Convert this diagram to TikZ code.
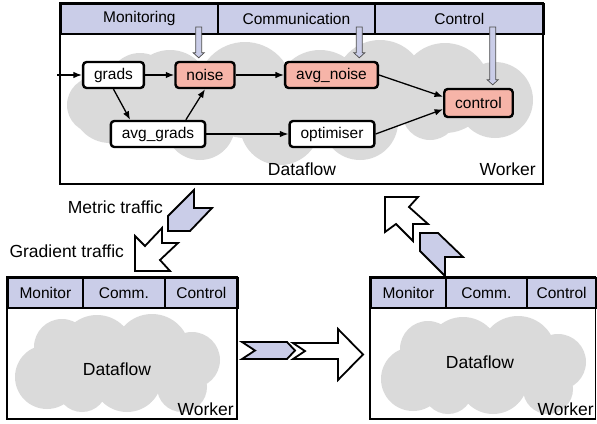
\documentclass[tikz,border=0pt]{standalone}
\usepackage{fontspec}
\setmainfont{Liberation Sans}
\usetikzlibrary{arrows.meta,calc}

\definecolor{hdrblue}{RGB}{202,205,232}
\definecolor{opred}{RGB}{246,180,168}
\definecolor{cloudgray}{RGB}{218,218,218}

\tikzset{
  wframe/.style={draw,line width=1.8pt},
  hdr/.style={draw,line width=1.8pt,fill=hdrblue,minimum height=30pt,inner sep=0pt,
    anchor=north west,font=\fontsize{15.5}{18}\selectfont},
  op/.style={draw,line width=2.4pt,rounded corners=3.5pt,fill=white,minimum height=26pt,
    inner xsep=11pt,inner ysep=0pt,font=\fontsize{15.5}{18}\selectfont},
  hot/.style={op,fill=opred},
  flow/.style={-{Latex[length=8.5pt,width=6.5pt]},line width=1.3pt},
  tag/.style={font=\fontsize{17.5}{20}\selectfont,inner sep=0pt},
  traffic/.style={draw,line width=1.8pt,line join=miter,fill=hdrblue},
  bulk/.style={traffic,fill=white},
  ctl/.style={draw=black!70,line width=0.7pt,fill=hdrblue},
  smallcloud/.pic={
    \fill[cloudgray] (-70,15) circle (32pt) (-55,-15) circle (28pt) (-20,-10) circle (37pt)
      (35,-10) circle (38pt) (75,-2) circle (28pt) (65,25) circle (25pt)
      (10,15) circle (35pt) (-35,25) circle (25pt);
  }
}

% hollow control arrow from a header tap down onto a node
\newcommand{\ctlarrow}[2]{%
  \path[ctl] let \p1=(#1), \p2=(#2.north) in
    (\x1-3pt,\y1) -- (\x1-3pt,\y2+8pt) -- (\x1-5.5pt,\y2+8pt) -- (\x1,\y2+3pt)
    -- (\x1+5.5pt,\y2+8pt) -- (\x1+3pt,\y2+8pt) -- (\x1+3pt,\y1) -- cycle;}

\begin{document}
\begin{tikzpicture}[x=1pt,y=-1pt]
 \useasboundingbox (0,0) rectangle (597,423);

 % main worker
 \begin{scope}
  \fill[cloudgray] (95,105) circle (28pt) (110,105) circle (38pt) (140,85) circle (32pt)
    (170,90) circle (40pt) (245,90) circle (48pt) (320,95) circle (45pt)
    (380,85) circle (45pt) (445,88) circle (45pt) (495,100) circle (38pt)
    (200,125) circle (35pt) (280,125) circle (40pt) (360,122) circle (38pt)
    (430,112) circle (28pt) (130,122) circle (24pt);
  \node[hdr,minimum width=157pt] (mon) at (60,3) {Monitoring};
  \node[hdr,minimum width=157pt] (com) at (217,3) {Communication};
  \node[hdr,minimum width=169pt] (ctr) at (374,3) {Control};
  \draw[wframe] (60,3) rectangle (543,184);

  \node[op] (grads) at (113.5,75) {grads};
  \node[hot] (noise) at (205,75) {noise};
  \node[hot] (avgnoise) at (331.5,75) {avg\_noise};
  \node[hot,minimum height=28pt] (control) at (478.5,103) {control};
  \node[op] (avggrads) at (158,134) {avg\_grads};
  \node[op,minimum width=70pt] (optim) at (332,134) {optimiser};

  \coordinate (in) at (57,75);
  \draw[flow] (in) -- (grads);
  \draw[flow] (grads) -- (noise);
  \draw[flow] (noise) -- (avgnoise);
  \draw[flow] (avgnoise.east) -- (control.170);
  \draw[flow] (grads.south) -- (avggrads.153);
  \draw[flow] (avggrads.27) -- (noise.south);
  \draw[flow] (avggrads) -- (optim);
  \draw[flow] (optim.east) -- (control.190);

  \coordinate (mon tap) at (198.7,27);
  \coordinate (com tap) at (359.3,27);
  \coordinate (ctr tap) at (492.7,27);
  \ctlarrow{mon tap}{noise}
  \ctlarrow{com tap}{avgnoise}
  \ctlarrow{ctr tap}{control}

  \node[tag,anchor=base] (df) at (302,175.7) {Dataflow};
  \node[tag,anchor=base east] (wk) at (536,175.7) {Worker};
 \end{scope}

 % worker on the left
 \begin{scope}
  \pic at (117,362) {smallcloud};
  \node[hdr,minimum width=75pt] (lmon) at (7,277) {Monitor};
  \node[hdr,minimum width=82pt] (lcom) at (82,277) {Comm.};
  \node[hdr,minimum width=73pt] (lctr) at (164,277) {Control};
  \draw[wframe] (7,277) rectangle (237,419);
  \node[tag,anchor=base] (ldf) at (117,375) {Dataflow};
  \node[tag,anchor=base east] (lwk) at (234,415) {Worker};
 \end{scope}

 % worker on the right
 \begin{scope}
  \pic at (483,364) {smallcloud};
  \node[hdr,minimum width=75pt] (rmon) at (370,277) {Monitor};
  \node[hdr,minimum width=81pt] (rcom) at (445,277) {Comm.};
  \node[hdr,minimum width=69.5pt] (rctr) at (526,277) {Control};
  \draw[wframe] (370,277) rectangle (595.5,419);
  \node[tag,anchor=base] (rdf) at (480,368.3) {Dataflow};
  \node[tag,anchor=base east] (rwk) at (594,415) {Worker};
 \end{scope}

 % traffic between workers
 \draw[traffic] (194,190) -- (194,208) -- (212,208) -- (190,231) -- (168,231) -- (168,216) -- cycle;
 \draw[bulk] (135,271) -- (135,236) -- (145,246) -- (162,228) -- (162,243) -- (178,243)
   -- (160,260) -- (170,271) -- cycle;
 \node[tag,anchor=base west] (metric) at (67.7,213.3) {Metric traffic};
 \node[tag,anchor=base west] (gradient) at (9.3,257.7) {Gradient traffic};

 \draw[traffic] (242,342) -- (287,342) -- (295,350.5) -- (287,359) -- (242,359) -- (255,350.5) -- cycle;
 \draw[bulk] (293,343) -- (338,343) -- (338,329) -- (363,354.5) -- (338,380) -- (338,359)
   -- (293,359) -- (305,351) -- cycle;

 \draw[traffic] (420,233) -- (438,233) -- (463,257) -- (445,257) -- (445,276) -- (420,251) -- cycle;
 \draw[bulk] (385,197) -- (418,197) -- (409,207) -- (428,224) -- (413,224) -- (413,241)
   -- (396,224) -- (385,232) -- cycle;
\end{tikzpicture}
\end{document}
